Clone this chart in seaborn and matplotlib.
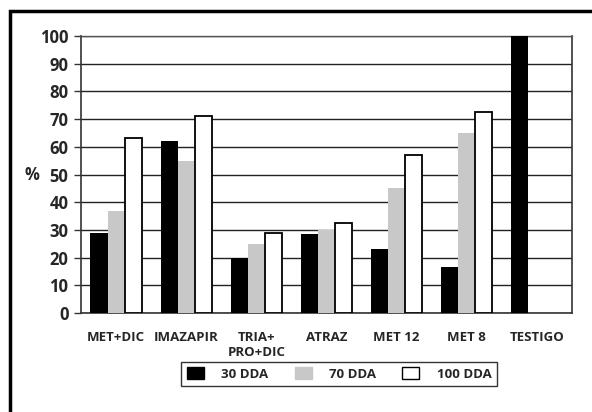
import numpy as np
import pandas as pd
import matplotlib
matplotlib.use("Agg")
import matplotlib.pyplot as plt
import seaborn as sns
from matplotlib.patches import Patch, Rectangle

categories = ["MET+DIC", "IMAZAPIR", "TRIA+\nPRO+DIC", "ATRAZ", "MET 12", "MET 8", "TESTIGO"]
series_names = ["30 DDA", "70 DDA", "100 DDA"]
dda_30 = [29, 62, 20, 28.5, 23, 16.5, 100]
dda_70 = [37, 55, 25, 30, 45, 65, np.nan]
dda_100 = [63, 71, 29, 32.5, 57, 72.5, np.nan]
y_ticks = list(range(0, 101, 10))

colors = ["#000000", "#c8c8c8", "#ffffff"]

sns.set_theme(style="white")
plt.rcParams['font.family'] = ['Open Sans', 'DejaVu Sans']

rows = []
for name, vals in zip(series_names, [dda_30, dda_70, dda_100]):
    for cat, v in zip(categories, vals):
        rows.append([cat, name, v])
df = pd.DataFrame(rows, columns=["cat", "serie", "valor"])

fig = plt.figure(figsize=(5.92, 4.12), dpi=100)
ax = fig.add_axes([81 / 592, 1 - 313 / 412, (572 - 81) / 592, (313 - 36) / 412])

sns.barplot(data=df, x="cat", y="valor", hue="serie", hue_order=series_names,
            order=categories, palette=colors, width=0.73, saturation=1,
            linewidth=0, legend=False, ax=ax, zorder=3)

for bar in ax.containers[2]:
    bar.set_edgecolor("black")
    bar.set_linewidth(1.3)

ax.set_ylim(0, 100)
ax.set_yticks(y_ticks)
ax.yaxis.grid(True, color="#222222", linewidth=1.0, zorder=0)
ax.set_axisbelow(True)
ax.set_xlabel("")
ax.set_ylabel("%", rotation=0, fontsize=12, fontweight="bold", va="center", ha="center")
ax.yaxis.set_label_coords(-0.1, 0.5)
ax.tick_params(axis="y", left=True, length=5, width=1, color="#333333", labelsize=12, pad=4)
ax.tick_params(axis="x", bottom=False, labelsize=9.5, pad=7)
for lab in ax.get_yticklabels() + ax.get_xticklabels():
    lab.set_fontweight("bold")
for s in ["left", "bottom", "right"]:
    ax.spines[s].set_color("#333333")
    ax.spines[s].set_linewidth(1.2)
ax.spines["top"].set_color("#555555")
ax.spines["top"].set_linewidth(1.0)

handles = [Patch(facecolor=c, edgecolor=("black" if c == "#ffffff" else c), linewidth=1)
           for c in colors]
leg = fig.legend(handles, series_names, loc="center", bbox_to_anchor=(339 / 592, 1 - 374 / 412),
                 ncol=3, frameon=True, fancybox=False, handlelength=1.3,
                 handleheight=0.95, handletextpad=1.3, columnspacing=2.0, borderpad=0.4,
                 prop={"weight": "bold", "size": 9.5})
leg.get_frame().set_edgecolor("black")
leg.get_frame().set_linewidth(1.0)

fig.patches.append(Rectangle((10 / 592, -0.1), 1.2, 1 - 11 / 412 + 0.1, transform=fig.transFigure,
                             fill=False, edgecolor="black", linewidth=2.5))

fig.savefig("out.png", dpi=100)
